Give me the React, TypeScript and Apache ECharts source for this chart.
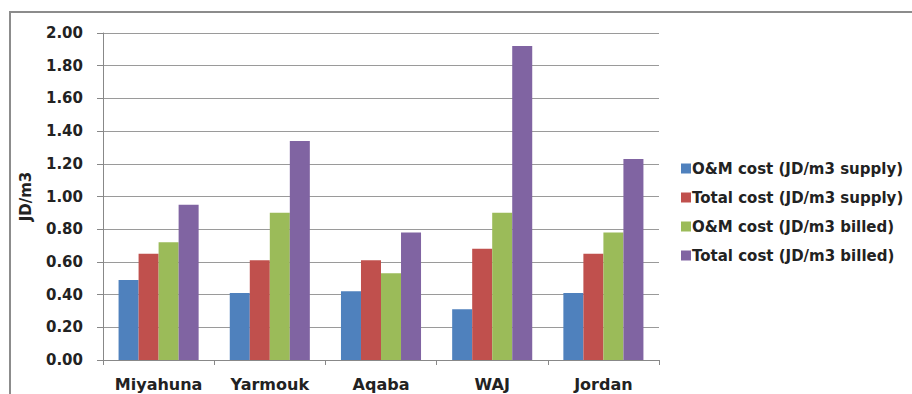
import React, { useEffect, useRef } from "react";
import * as echarts from "echarts";

const categories = ["Miyahuna", "Yarmouk", "Aqaba", "WAJ", "Jordan"];
const omSupply = [0.49, 0.41, 0.42, 0.31, 0.41];
const totalSupply = [0.65, 0.61, 0.61, 0.68, 0.65];
const omBilled = [0.72, 0.9, 0.53, 0.9, 0.78];
const totalBilled = [0.95, 1.34, 0.78, 1.92, 1.23];
const seriesNames = [
  "O&M cost (JD/m3 supply)",
  "Total cost (JD/m3 supply)",
  "O&M cost (JD/m3 billed)",
  "Total cost (JD/m3 billed)",
];
const colors = ["#4F81BD", "#C0504D", "#9BBB59", "#8064A2"];

const FONT = "'DejaVu Sans', 'Noto Sans', sans-serif";

export default function App() {
  const ref = useRef<HTMLDivElement>(null);
  useEffect(() => {
    if (!ref.current) return;
    const chart = echarts.init(ref.current, undefined, { renderer: "svg" });
    const data = [omSupply, totalSupply, omBilled, totalBilled];
    chart.setOption({
      animation: false,
      backgroundColor: "#ffffff",
      color: colors,
      textStyle: { fontFamily: FONT },
      grid: { left: 103, right: 253, top: 33, bottom: 34 },
      graphic: [
        {
          type: "rect",
          shape: { x: 10, y: 12, width: 910, height: 400 },
          style: { fill: "none", stroke: "#8c8c8c", lineWidth: 2 },
          silent: true,
        },
      ],
      legend: {
        orient: "vertical",
        left: 676,
        top: 155,
        itemWidth: 10,
        itemHeight: 10,
        itemGap: 12,
        icon: "rect",
        textStyle: {
          fontFamily: FONT,
          fontWeight: "bold",
          fontSize: 15,
          color: "#222",
          padding: [0, 0, 0, -4],
          lineHeight: 17,
        },
        data: seriesNames,
      },
      xAxis: {
        type: "category",
        data: categories,
        axisLine: { lineStyle: { color: "#888", width: 1 } },
        axisTick: { show: true, length: 5, lineStyle: { color: "#888" } },
        axisLabel: {
          interval: 0,
          hideOverlap: false,
          fontFamily: FONT,
          fontWeight: "bold",
          fontSize: 16,
          color: "#222",
          margin: 16,
        },
      },
      yAxis: {
        type: "value",
        min: 0,
        max: 2,
        interval: 0.2,
        name: "JD/m3",
        nameLocation: "middle",
        nameRotate: 90,
        nameGap: 70,
        nameTextStyle: {
          fontFamily: FONT,
          fontWeight: "bold",
          fontSize: 15,
          color: "#222",
        },
        axisLine: { show: true, lineStyle: { color: "#888" } },
        axisTick: { show: true, length: 6, lineStyle: { color: "#888" } },
        splitLine: { lineStyle: { color: "#9a9a9a", width: 1 } },
        axisLabel: {
          fontFamily: FONT,
          fontWeight: "bold",
          fontSize: 15,
          color: "#222",
          margin: 20,
          formatter: (v: number) => v.toFixed(2),
        },
      },
      series: seriesNames.map((name, i) => ({
        name,
        type: "bar",
        data: data[i],
        barGap: "0%",
        barCategoryGap: "28%",
        itemStyle: { color: colors[i] },
      })),
    });
    return () => chart.dispose();
  }, []);
  return (
    <div
      ref={ref}
      style={{ position: "fixed", left: 0, top: 0, width: 912, height: 394 }}
    />
  );
}
